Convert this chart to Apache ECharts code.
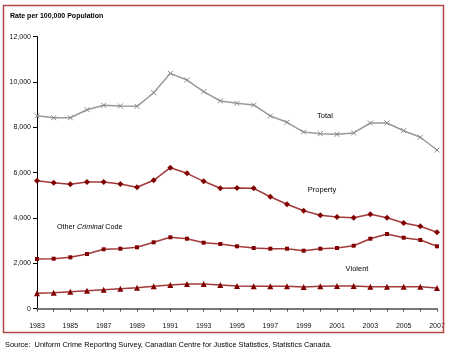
<!DOCTYPE html>
<html><head><meta charset="utf-8">
<script src="https://cdn.jsdelivr.net/npm/echarts@6/dist/echarts.min.js"></script>
<style>html,body{margin:0;padding:0;background:#fff}#c{width:450px;height:352px}</style>
</head><body><div id="c"></div>
<script>
const years = ['1983','1984','1985','1986','1987','1988','1989','1990','1991','1992','1993','1994','1995','1996','1997','1998','1999','2000','2001','2002','2003','2004','2005','2006','2007'];
const total = [8510,8420,8420,8775,8970,8940,8925,9525,10380,10085,9570,9160,9060,8985,8500,8220,7790,7720,7690,7750,8190,8190,7850,7560,7000];
const property = [5645,5557,5486,5587,5587,5499,5354,5662,6218,5971,5618,5310,5323,5310,4939,4604,4322,4119,4044,4013,4163,4013,3779,3635,3369];
const otherCC = [2192,2205,2267,2412,2620,2646,2708,2928,3149,3087,2911,2853,2752,2677,2646,2646,2558,2646,2677,2778,3087,3294,3131,3030,2752];
const violent = [679,706,750,794,838,882,926,988,1045,1089,1089,1045,1001,988,988,988,957,988,1001,1001,970,970,970,970,913];

const chart = echarts.init(document.getElementById('c'));
const FONT = '"Liberation Sans Narrow","Arial Narrow","Liberation Sans",Arial,sans-serif';
const red = '#800000', redLine = '#a23a3a';
function lineSeries(name, data, symbol, size, lineColor, markColor, extra) {
  return Object.assign({
    name, type: 'line', data, symbol, symbolSize: size, showAllSymbol: true,
    lineStyle: { color: lineColor, width: 1.5 },
    itemStyle: { color: markColor, borderColor: markColor, borderWidth: 0 },
    animation: false
  }, extra || {});
}
chart.setOption({
  animation: false,
  grid: { left: 37, right: 13, top: 36.6, bottom: 43.3, containLabel: false },
  xAxis: {
    type: 'category', data: years, boundaryGap: false,
    axisLine: { lineStyle: { color: '#777', width: 2 } },
    axisTick: { show: true, interval: 0, length: 3, lineStyle: { color: '#555' } },
    axisLabel: { interval: 1, color: '#111', fontSize: 7, fontFamily: FONT, margin: 14 },
    splitLine: { show: false }
  },
  yAxis: {
    type: 'value', min: 0, max: 12000, interval: 2000,
    axisLine: { show: true, lineStyle: { color: '#000', width: 1 } },
    axisTick: { show: true, length: 4, lineStyle: { color: '#000' } },
    axisLabel: { color: '#111', fontSize: 7, fontFamily: FONT, margin: 6,
      formatter: v => v.toLocaleString('en-US') },
    splitLine: { show: false }
  },
  series: [
    lineSeries('Total', total, 'path://M0,0L10,10M10,0L0,10', 5, '#999', 'none',
      { itemStyle: { color: 'none', borderColor: '#888', borderWidth: 1 } }),
    lineSeries('Property', property, 'diamond', 6, redLine, red),
    lineSeries('Other Criminal Code', otherCC, 'rect', 4, redLine, red),
    lineSeries('Violent', violent, 'triangle', 6, redLine, red)
  ],
  graphic: [
    { type: 'rect', shape: { x: 3.5, y: 5.5, width: 440, height: 327 }, style: { fill: 'none', stroke: '#b04848', lineWidth: 1.5 }, z: 100 },
    { type: 'text', left: 10, top: 13, style: { text: 'Rate per 100,000 Population', font: 'bold 7px ' + FONT, fill: '#000' } },
    { type: 'text', x: 325, y: 116, style: { text: 'Total', font: '7.5px ' + FONT, fill: '#000', align: 'center', verticalAlign: 'middle' } },
    { type: 'text', x: 322, y: 190, style: { text: 'Property', font: '7.5px ' + FONT, fill: '#000', align: 'center', verticalAlign: 'middle' } },
    { type: 'text', x: 357, y: 269, style: { text: 'Violent', font: '7.5px ' + FONT, fill: '#000', align: 'center', verticalAlign: 'middle' } },
    { type: 'text', x: 57, y: 227, style: { rich: { n: { font: '7.2px ' + FONT, fill: '#000' }, i: { font: 'italic 7.2px ' + FONT, fill: '#000' } }, text: '{n|Other }{i|Criminal}{n| Code}', verticalAlign: 'middle' } },
    { type: 'text', left: 5, top: 341, style: { text: 'Source:  Uniform Crime Reporting Survey, Canadian Centre for Justice Statistics, Statistics Canada.', font: '7.4px ' + FONT, fill: '#000' } }
  ]
});
</script></body></html>
